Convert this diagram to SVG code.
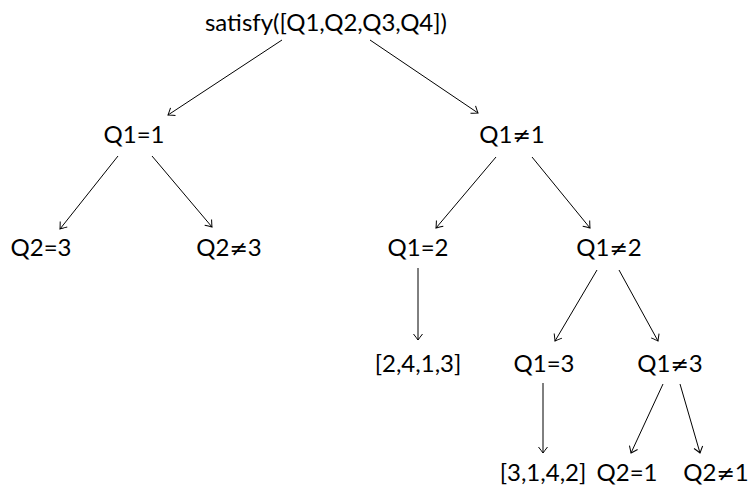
<svg xmlns="http://www.w3.org/2000/svg" width="748" height="488" viewBox="0 0 748 488">
<defs>
<style>
text{font-family:"Lato","Open Sans",sans-serif;font-size:24px;fill:#000;text-anchor:middle}
.ne{font-family:"DejaVu Sans",sans-serif;font-size:22px}
.e line{stroke:#000;stroke-width:1;fill:none;marker-end:url(#ah)}
</style>
<marker id="ah" markerUnits="userSpaceOnUse" viewBox="-8 -6 10 12" refX="0" refY="0" markerWidth="10" markerHeight="12" orient="auto">
<path d="M-6,-4.5 Q-1.5,-1 0,0 Q-1.5,1 -6,4.5" fill="none" stroke="#000" stroke-width="1"/>
</marker>
</defs>
<rect width="748" height="488" fill="#fff"/>
<g class="e" id="connectors">
<line x1="282" y1="40" x2="168" y2="115"/>
<line x1="370" y1="40" x2="478" y2="113"/>
<line x1="118" y1="156" x2="60" y2="229"/>
<line x1="152" y1="156" x2="212" y2="227"/>
<line x1="496" y1="157" x2="436" y2="228"/>
<line x1="532" y1="157" x2="590" y2="228"/>
<line x1="418" y1="268" x2="418" y2="340"/>
<line x1="597" y1="270" x2="555" y2="341"/>
<line x1="619" y1="270" x2="658" y2="341"/>
<line x1="543" y1="383" x2="543" y2="453"/>
<line x1="663" y1="384" x2="631" y2="453"/>
<line x1="680" y1="384" x2="700" y2="453"/>
</g>
<g id="root"><text x="326" y="31">satisfy([Q1,Q2,Q3,Q4])</text></g>
<g id="n_q1eq1"><text x="134" y="143">Q1=1</text></g>
<g id="n_q1ne1"><text x="512" y="143">Q1<tspan class="ne">≠</tspan>1</text></g>
<g id="n_q2eq3"><text x="41" y="256">Q2=3</text></g>
<g id="n_q2ne3"><text x="229" y="256">Q2<tspan class="ne">≠</tspan>3</text></g>
<g id="n_q1eq2"><text x="418" y="256">Q1=2</text></g>
<g id="n_q1ne2"><text x="609" y="256">Q1<tspan class="ne">≠</tspan>2</text></g>
<g id="n_2413"><text x="418" y="372">[2,4,1,3]</text></g>
<g id="n_q1eq3"><text x="544" y="372">Q1=3</text></g>
<g id="n_q1ne3"><text x="670" y="372">Q1<tspan class="ne">≠</tspan>3</text></g>
<g id="n_3142"><text x="543" y="481">[3,1,4,2]</text></g>
<g id="n_q2eq1"><text x="627" y="481">Q2=1</text></g>
<g id="n_q2ne1"><text x="716" y="481">Q2<tspan class="ne">≠</tspan>1</text></g>
</svg>
